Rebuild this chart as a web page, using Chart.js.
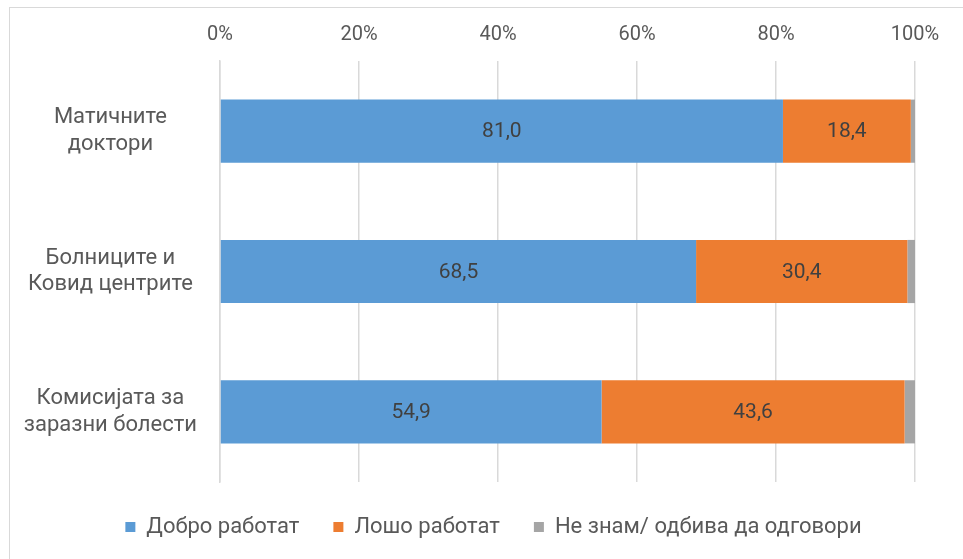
<!DOCTYPE html>
<html>
<head>
<meta charset="utf-8">
<script src="https://cdn.jsdelivr.net/npm/chart.js@4.4.1/dist/chart.umd.min.js"></script>
<style>
  html, body { margin: 0; padding: 0; background: #fff; overflow: hidden; }
  .frame { position: absolute; left: 9px; top: 7px; width: 1000px; height: 600px; border: 1.5px solid #d9d9d9; }
  .wrap { position: absolute; left: 0; top: 0; width: 963px; height: 559px; }
</style>
</head>
<body>
<div class="frame"></div>
<div class="wrap"><canvas id="chart"></canvas></div>
<script>
const categories = [
  ['Матичните', 'доктори'],
  ['Болниците и', 'Ковид центрите'],
  ['Комисијата за', 'заразни болести'],
];
const seriesNames = ['Добро работат', 'Лошо работат', 'Не знам/ одбива да одговори'];
const good = [81.0, 68.5, 54.9];
const bad = [18.4, 30.4, 43.6];
const dunno = [0.6, 1.1, 1.5];
const colors = ['#5b9bd5', '#ed7d31', '#a5a5a5'];
const xTicks = [0, 20, 40, 60, 80, 100];

// values written in the middle of the bars (only first two series)
const barValues = {
  id: 'barValues',
  afterDatasetsDraw(chart) {
    const ctx = chart.ctx;
    ctx.save();
    ctx.font = '21px Roboto, "Noto Sans", sans-serif';
    ctx.fillStyle = '#404040';
    ctx.textAlign = 'center';
    ctx.textBaseline = 'middle';
    [0, 1].forEach(di => {
      chart.getDatasetMeta(di).data.forEach((bar, i) => {
        const v = chart.data.datasets[di].data[i];
        const p = bar.getProps(['x', 'y', 'base'], true);
        ctx.fillText(v.toFixed(1).replace('.', ','), (p.x + p.base) / 2, p.y + 1);
      });
    });
    ctx.restore();
  }
};

// the legend in the original sits a bit right of the canvas centre
const legendShift = {
  id: 'legendShift',
  afterLayout(chart) {
    chart.legend.left += 36;
    chart.legend.right += 36;
  }
};

const ctx = document.getElementById('chart').getContext('2d');
new Chart(ctx, {
  type: 'bar',
  data: {
    labels: categories,
    datasets: [good, bad, dunno].map((d, i) => ({
      label: seriesNames[i],
      data: d,
      backgroundColor: colors[i],
      borderWidth: 0,
      categoryPercentage: 0.45,
      barPercentage: 1,
    })),
  },
  options: {
    indexAxis: 'y',
    responsive: true,
    maintainAspectRatio: false,
    animation: false,
    layout: { padding: { left: 0, right: 48, top: 0, bottom: 11 } },
    scales: {
      x: {
        position: 'top',
        stacked: true,
        min: 0,
        max: 100,
        afterBuildTicks: scale => { scale.ticks = xTicks.map(v => ({ value: v })); },
        afterFit: scale => { scale.height = 61; },
        ticks: {
          padding: 14,
          color: '#595959',
          font: { family: 'Roboto, "Open Sans", sans-serif', size: 20 },
          callback: v => v + '%',
        },
        grid: { color: '#d9d9d9', lineWidth: 1.5, drawTicks: false },
        border: { display: false },
      },
      y: {
        stacked: true,
        afterFit: scale => { scale.width = 220; },
        ticks: {
          crossAlign: 'center',
          padding: 15,
          color: '#595959',
          font: { family: 'Roboto, "Noto Sans", sans-serif', size: 22, lineHeight: 1.2 },
        },
        grid: { display: false },
        border: { display: true, color: '#d9d9d9', width: 1.5 },
      },
    },
    plugins: {
      legend: {
        position: 'bottom',
        labels: {
          boxWidth: 10,
          boxHeight: 10,
          padding: 34,
          color: '#595959',
          font: { family: 'Roboto, "Noto Sans", sans-serif', size: 22 },
        },
      },
      tooltip: { enabled: false },
    },
  },
  plugins: [barValues, legendShift],
});
</script>
</body>
</html>
